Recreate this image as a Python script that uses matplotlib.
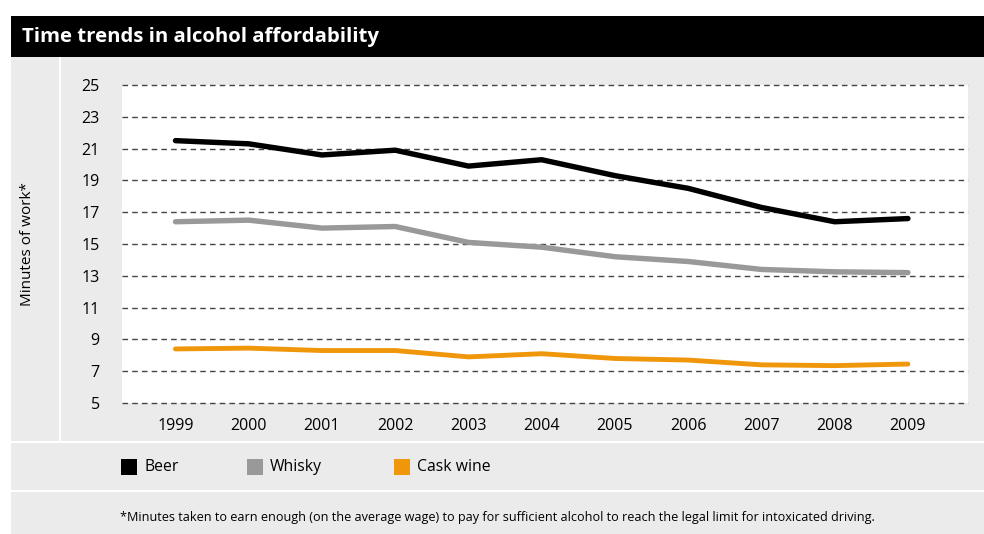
import matplotlib
matplotlib.use('Agg')
import matplotlib.pyplot as plt
from matplotlib.patches import Rectangle

plt.rcParams['font.family'] = ['Open Sans', 'DejaVu Sans']

# Dados
anos = [1999, 2000, 2001, 2002, 2003, 2004, 2005, 2006, 2007, 2008, 2009]
cerveja = [21.5, 21.3, 20.6, 20.9, 19.9, 20.3, 19.3, 18.5, 17.3, 16.4, 16.6]
whisky = [16.4, 16.5, 16.0, 16.1, 15.1, 14.8, 14.2, 13.9, 13.4, 13.25, 13.2]
vinho = [8.4, 8.45, 8.3, 8.3, 7.9, 8.1, 7.8, 7.7, 7.4, 7.35, 7.45]
yticks = list(range(5, 26, 2))

W, H = 984, 534
fig = plt.figure(figsize=(W / 100, H / 100), dpi=100)
fig.patch.set_facecolor('white')

CINZA = '#ebebeb'

def caixa(x0, y0, x1, y1, cor, z=0):
    # coordenadas em pixels (origem no topo)
    fig.patches.append(Rectangle((x0 / W, 1 - y1 / H), (x1 - x0) / W, (y1 - y0) / H,
                                 transform=fig.transFigure, facecolor=cor,
                                 edgecolor='none', zorder=z))

caixa(11, 16, W, 57, 'black')
caixa(11, 57, 59, 441, CINZA)
caixa(61, 57, W, 441, CINZA)
caixa(11, 443, W, 490, CINZA)
caixa(11, 492, W, H, CINZA)

fig.text(22 / W, 1 - 37 / H, 'Time trends in alcohol affordability', color='white',
         fontsize=14.7, fontweight='bold', va='center', ha='left')

ax = fig.add_axes([122 / W, 1 - 403 / H, (968 - 122) / W, (403 - 85) / H])
ax.set_zorder(2)
ax.set_facecolor('white')
ax.plot(anos, cerveja, color='black', lw=3.9, solid_capstyle='round', zorder=3)
ax.plot(anos, whisky, color='#999999', lw=3.9, solid_capstyle='round', zorder=3)
ax.plot(anos, vinho, color='#f0960a', lw=3.5, solid_capstyle='round', zorder=3)

ax.set_ylim(5, 25)
ax.set_xlim(1999 - 0.73, 2009 + 0.82)
ax.set_yticks(yticks)
ax.set_xticks(anos)
ax.tick_params(length=0, labelsize=11.5)
ax.tick_params(axis='y', pad=16)
ax.tick_params(axis='x', pad=11)
for s in ax.spines.values():
    s.set_visible(False)
for y in yticks:
    ax.axhline(y, color='#444444', lw=1, ls=(0, (4, 3)), zorder=1, clip_on=False)
ax.set_ylabel('Minutes of work*', fontsize=11)
ax.yaxis.set_label_coords((35 - 122) / (968 - 122), 0.5)

# Legenda
itens = [('Beer', 'black', 121), ('Whisky', '#999999', 247), ('Cask wine', '#f0960a', 394)]
for nome, cor, x in itens:
    caixa(x, 459, x + 16, 475, cor, z=1)
    fig.text((x + 23) / W, 1 - 467 / H, nome, fontsize=11.3, va='center', ha='left')

fig.text(497 / W, 1 - 517 / H,
         '*Minutes taken to earn enough (on the average wage) to pay for sufficient alcohol to reach the legal limit for intoxicated driving.',
         fontsize=9.1, ha='center', va='center')

fig.savefig('out.png', dpi=100)
